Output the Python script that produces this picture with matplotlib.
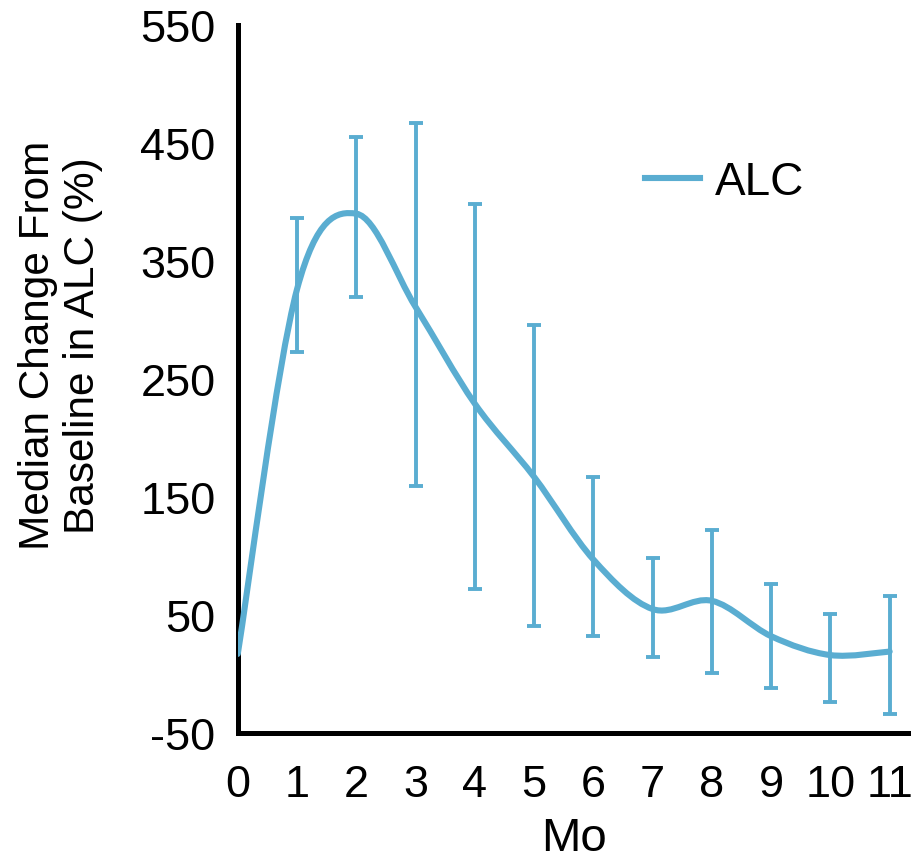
import matplotlib

matplotlib.use("Agg")
import matplotlib.pyplot as plt
import numpy as np
from matplotlib.lines import Line2D
from matplotlib.patches import PathPatch
from matplotlib.path import Path

LINE_COLOR = "#5AADD1"

# median change from baseline in ALC (%), by month
months = [0, 1, 2, 3, 4, 5, 6, 7, 8, 9, 10, 11]
median = [17, 326, 390, 311, 229, 167, 97, 55, 62, 32, 16, 19]
# error bar limits (no bar at month 0)
upper = [None, 386, 455, 467, 398, 296, 167, 98, 122, 76, 51, 66]
lower = [None, 273, 319, 159, 72, 41, 32, 14, 1, -12, -24, -34]
yticks = [-50, 50, 150, 250, 350, 450, 550]


def smooth_path(xs, ys):
    """Catmull-Rom style cubic Bezier through every point (spreadsheet 'smoothed line')."""
    pts = np.column_stack([xs, ys]).astype(float)
    n = len(pts)
    verts = [pts[0]]
    codes = [Path.MOVETO]
    for i in range(n - 1):
        p0 = pts[i - 1] if i > 0 else pts[i]
        p1, p2 = pts[i], pts[i + 1]
        p3 = pts[i + 2] if i + 2 < n else pts[i + 1]
        verts += [p1 + (p2 - p0) / 6, p2 - (p3 - p1) / 6, p2]
        codes += [Path.CURVE4] * 3
    return Path(verts, codes)


plt.rcParams["font.family"] = ["Liberation Sans", "DejaVu Sans"]

fig = plt.figure(figsize=(9.11, 8.62), dpi=100)
ax = fig.add_axes([0.261, 0.1485, 0.739, 0.8215])

ax.add_patch(PathPatch(smooth_path(months, median), facecolor="none",
                       edgecolor=LINE_COLOR, lw=4.4, capstyle="round", zorder=3))

ex = months[1:]
ey = median[1:]
err_lo = [m - l for m, l in zip(ey, lower[1:])]
err_hi = [u - m for m, u in zip(ey, upper[1:])]
ax.errorbar(ex, ey, yerr=[err_lo, err_hi], fmt="none", ecolor=LINE_COLOR,
            elinewidth=2.8, capsize=5, capthick=2.8, zorder=2)

ax.set_xlim(0, 11.36)
ax.set_ylim(-50, 550)
ax.set_xticks(months)
ax.set_xticklabels([str(m) for m in months])
ax.set_yticks(yticks)
ax.set_yticklabels([str(t) for t in yticks])
ax.tick_params(axis="y", length=0, labelsize=32.5, pad=16)
ax.tick_params(axis="x", length=0, labelsize=32.5, pad=22)

for side in ("top", "right"):
    ax.spines[side].set_visible(False)
for side in ("left", "bottom"):
    ax.spines[side].set_linewidth(3.6)
    ax.spines[side].set_color("black")

ax.set_xlabel("Mo", fontsize=34, labelpad=8)
ax.set_ylabel("Median Change From\nBaseline in ALC (%)", fontsize=30.5,
              linespacing=1.15)
ax.yaxis.set_label_coords(-0.2, 0.549)

handle = Line2D([], [], color=LINE_COLOR, lw=4.4)
ax.legend([handle], ["ALC"], loc="center left", bbox_to_anchor=(0.605, 0.778),
          frameon=False, fontsize=33, handlelength=1.2, handletextpad=0.33,
          borderpad=0, borderaxespad=0)

fig.savefig("out.png", dpi=100)
